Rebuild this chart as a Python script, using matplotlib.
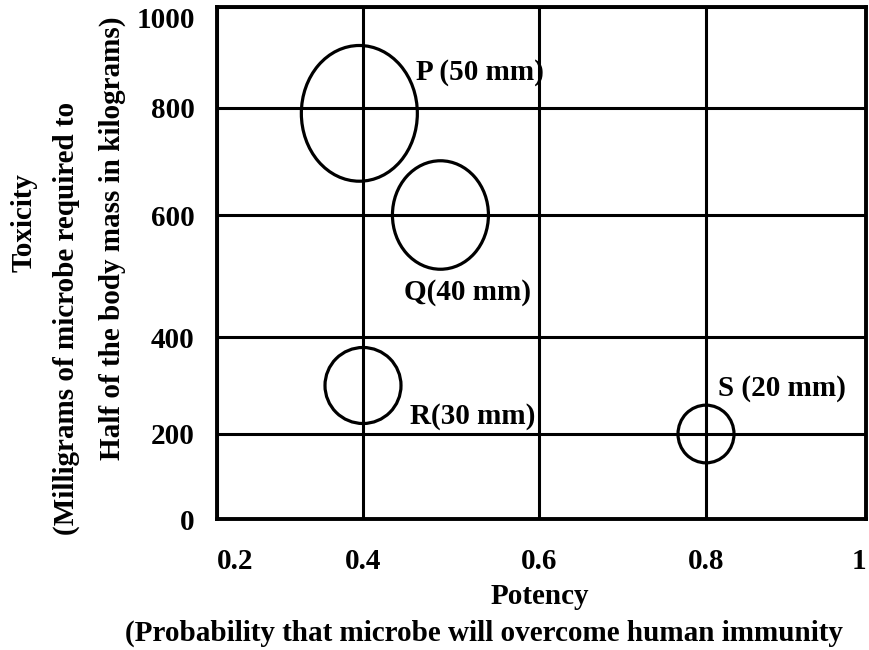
import numpy as np
import matplotlib
matplotlib.use("Agg")
import matplotlib.pyplot as plt
from matplotlib.collections import EllipseCollection

plt.rcParams['font.family'] = ['Liberation Serif', 'DejaVu Serif']
plt.rcParams['font.weight'] = 'bold'

# microbes: potency, toxicity, zone size (mm)
names = ['P', 'Q', 'R', 'S']
potency = [0.395, 0.488, 0.40, 0.80]
toxicity = [790, 600, 300, 200]
zone_mm = [50, 40, 30, 20]
point_labels = ['P (50 mm)', 'Q(40 mm)', 'R(30 mm)', 'S (20 mm)']

x_ticks = [0.2, 0.4, 0.6, 0.8, 1.0]
x_ticklabels = ['0.2', '0.4', '0.6', '0.8', '1']
y_ticks = [0, 200, 400, 600, 800, 1000]
y_ticklabels = ['0', '200', '400', '600', '800', '1000']

# the printed grid is hand drawn, so the gridlines are not evenly spaced
x_grid_pos = [0, 146, 322, 489, 649]
y_grid_pos = [0, 85, 182, 304, 411, 512]

FS = 21

def fwd_x(v):
    return np.interp(v, x_ticks, x_grid_pos)

def inv_x(p):
    return np.interp(p, x_grid_pos, x_ticks)

def fwd_y(v):
    return np.interp(v, y_ticks, y_grid_pos)

def inv_y(p):
    return np.interp(p, y_grid_pos, y_ticks)

fig = plt.figure(figsize=(8.7, 6.5), dpi=100)
ax = fig.add_axes([217 / 870, 131 / 650, 649 / 870, 512 / 650])
ax.set_xscale('function', functions=(fwd_x, inv_x))
ax.set_yscale('function', functions=(fwd_y, inv_y))
ax.set_xlim(0.2, 1.0)
ax.set_ylim(0, 1000)

ax.set_xticks(x_ticks)
ax.set_xticklabels(x_ticklabels)
ax.set_yticks(y_ticks)
ax.set_yticklabels(y_ticklabels)
ax.tick_params(length=0, labelsize=FS)
ax.tick_params(axis='x', pad=21)
ax.tick_params(axis='y', pad=16)
ax.minorticks_off()
ax.grid(True, color='black', linewidth=2.2)
ax.set_axisbelow(True)
for sp in ax.spines.values():
    sp.set_linewidth(2.8)
    sp.set_color('black')

# bubbles (pixel size follows the zone size; P and Q are drawn taller)
bubble_aspect = [1.17, 1.13, 1.0, 1.03]
widths = [2.0 * m + 16 for m in zone_mm]
heights = [w * a for w, a in zip(widths, bubble_aspect)]
ec = EllipseCollection(widths, heights, np.zeros(len(widths)), units='dots',
                       offsets=np.column_stack([potency, toxicity]),
                       offset_transform=ax.transData,
                       facecolors='none', edgecolors='black', linewidths=2.3)
ax.add_collection(ec)

label_offsets = [(57, 41), (-36, -78), (47, -31), (12, 46)]
for px, ty, lab, off in zip(potency, toxicity, point_labels, label_offsets):
    ax.annotate(lab, (px, ty), xytext=off, textcoords='offset pixels',
                ha='left', va='center', fontsize=FS, fontweight='bold')

# end labels sit inside the frame edges like in the printed figure
ax.get_yticklabels()[-1].set_verticalalignment('top')
ax.get_xticklabels()[0].set_horizontalalignment('left')
ax.get_xticklabels()[-1].set_horizontalalignment('right')

# axis titles
fig.text(24 / 870, 1 - 223 / 650, 'Toxicity', rotation=90,
         ha='center', va='center', fontsize=FS, fontweight='bold')
fig.text(66 / 870, 1 - 318 / 650, '(Milligrams of microbe required to', rotation=90,
         ha='center', va='center', fontsize=FS, fontweight='bold')
fig.text(112 / 870, 1 - 238 / 650, 'Half of the body mass in kilograms)', rotation=90,
         ha='center', va='center', fontsize=FS, fontweight='bold')
fig.text(540 / 870, 1 - 597 / 650, 'Potency',
         ha='center', va='center', fontsize=FS, fontweight='bold')
fig.text(484 / 870, 1 - 633 / 650, '(Probability that microbe will overcome human immunity',
         ha='center', va='center', fontsize=FS, fontweight='bold')

fig.savefig('out.png', dpi=100)
